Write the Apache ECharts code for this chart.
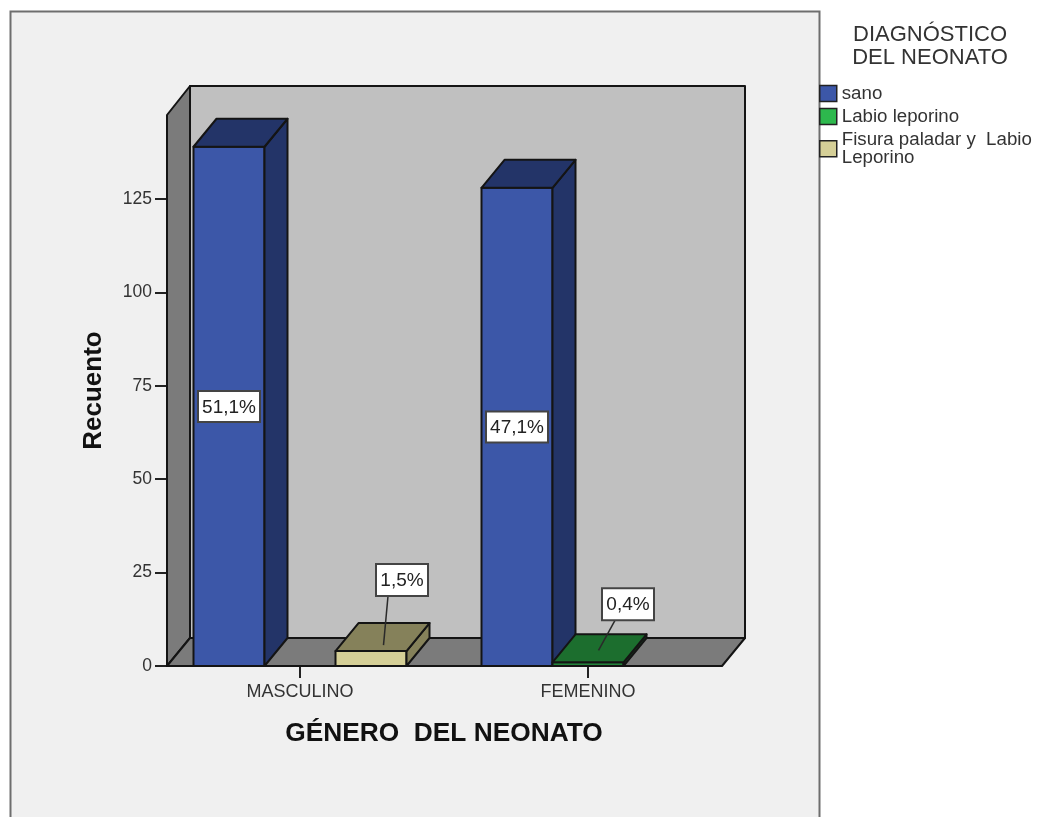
<!DOCTYPE html>
<html><head><meta charset="utf-8">
<style>html,body{margin:0;padding:0;background:#fff}#c{width:1041px;height:817px}</style>
<script src="https://cdn.jsdelivr.net/npm/echarts@6/dist/echarts.min.js"></script>
</head><body><div id="c"></div>
<script>
const categories = ['MASCULINO', 'FEMENINO'];
const sano = [139, 128];
const labio = [0, 1];
const fisura = [4, 0];
const sanoPct = ['51,1%', '47,1%'];
const labioPct = ['', '0,4%'];
const fisuraPct = ['1,5%', ''];
const tickValues = [0, 25, 50, 75, 100, 125];
const wallTop = 147.5;

const FONT = '"Liberation Sans", Arial, sans-serif';
const DX = 23, DY = 28, BAR = 71, LINE = '#141414';

function wallItem(params, api) {
  const band = api.size([1, 0])[0];
  const x0 = api.coord([0, 0])[0] - band / 2 + 11;
  const x1 = api.coord([1, 0])[0] + band / 2 - 10;
  const y0 = api.coord([0, 0])[1];
  const yT = api.coord([0, wallTop])[1];
  const st = (c) => ({ fill: c, stroke: LINE, lineWidth: 2, lineJoin: 'round' });
  const poly = (pts, c) => ({ type: 'polygon', shape: { points: pts }, style: st(c) });
  return { type: 'group', children: [
    poly([[x0 + DX, yT - DY - 1], [x1 + DX, yT - DY - 1], [x1 + DX, y0 - DY], [x0 + DX, y0 - DY]], '#c0c0c0'),
    poly([[x0, yT], [x0 + DX, yT - DY - 1], [x0 + DX, y0 - DY], [x0, y0]], '#7b7b7b'),
    poly([[x0, y0], [x0 + DX, y0 - DY], [x1 + DX, y0 - DY], [x1, y0]], '#7b7b7b')
  ] };
}

function barRenderer(slot, front, dark, labels, labelLayout) {
  return function (params, api) {
    const i = api.value(0), v = api.value(1);
    if (!v) return { type: 'group', children: [] };
    const c = api.coord([i, 0]);
    const t = api.coord([i, v]);
    const l = c[0] + slot * BAR - BAR / 2, r = l + BAR;
    const st = (col) => ({ fill: col, stroke: LINE, lineWidth: 2, lineJoin: 'round' });
    const poly = (pts, col) => ({ type: 'polygon', shape: { points: pts }, style: st(col) });
    const lay = labelLayout;
    const cx = l + BAR / 2 + lay.dx;
    const cy = lay.fromTop === null ? (c[1] + t[1]) / 2 : t[1] + lay.fromTop;
    const kids = [
      poly([[l, t[1]], [r, t[1]], [r, c[1]], [l, c[1]]], front),
      poly([[r, t[1]], [r + DX, t[1] - DY], [r + DX, c[1] - DY], [r, c[1]]], dark),
      poly([[l, t[1]], [l + DX, t[1] - DY], [r + DX, t[1] - DY], [r, t[1]]], dark)
    ];
    if (lay.lead) {
      kids.push({ type: 'line', shape: { x1: cx + lay.lead[0], y1: cy + lay.h / 2, x2: l + lay.lead[1], y2: t[1] + lay.lead[2] },
        style: { stroke: '#2a2a2a', lineWidth: 1.5 } });
    }
    kids.push({ type: 'rect', shape: { x: cx - lay.w / 2, y: cy - lay.h / 2, width: lay.w, height: lay.h },
      style: { fill: '#fff', stroke: '#444', lineWidth: 2 } });
    kids.push({ type: 'text', style: { text: labels[i], x: cx, y: cy + 1, align: 'center', verticalAlign: 'middle',
      font: '19px ' + FONT, fill: '#222' } });
    return { type: 'group', children: kids };
  };
}

const colors = { sano: '#3c57a8', labio: '#2db84d', fisura: '#d5cf97' };

const chart = echarts.init(document.getElementById('c'), null, { renderer: 'canvas' });
chart.setOption({
  animation: false,
  backgroundColor: '#fff',
  graphic: [{ type: 'rect', z: -100, shape: { x: 10.5, y: 11.5, width: 809, height: 830 },
    style: { fill: '#f0f0f0', stroke: '#6e6e6e', lineWidth: 2 } }],
  title: { text: 'DIAGNÓSTICO\nDEL NEONATO', left: 925, top: 18, textAlign: 'center',
    textStyle: { fontFamily: FONT, fontSize: 22, fontWeight: 'normal', color: '#333', lineHeight: 23 } },
  legend: { orient: 'vertical', left: 819, top: 84, padding: 0, itemWidth: 17, itemHeight: 16, itemGap: 4, icon: 'rect',
    align: 'left',
    data: ['sano', 'Labio leporino', 'Fisura paladar y  Labio\nLeporino'],
    textStyle: { fontFamily: FONT, fontSize: 18.7, color: '#333', lineHeight: 18.5 },
    itemStyle: { borderColor: '#222', borderWidth: 1.5 } },
  grid: { left: 156, top: 115, width: 576, height: 551, containLabel: false },
  xAxis: { type: 'category', data: categories, name: 'GÉNERO  DEL NEONATO', nameLocation: 'middle', nameGap: 55,
    nameTextStyle: { fontFamily: FONT, fontSize: 26.3, fontWeight: 'bold', color: '#111' },
    axisLine: { show: false }, axisTick: { show: true, alignWithLabel: true, length: 12, lineStyle: { color: '#222', width: 2 } },
    axisLabel: { fontFamily: FONT, fontSize: 18, color: '#333', margin: 17 }, splitLine: { show: false } },
  yAxis: { type: 'value', min: 0, max: wallTop, offset: -11, name: 'Recuento', nameLocation: 'middle', nameGap: 60,
    nameTextStyle: { fontFamily: FONT, fontSize: 26, fontWeight: 'bold', color: '#111' },
    axisLine: { show: false }, splitLine: { show: false },
    axisTick: { show: true, length: 12, customValues: tickValues, lineStyle: { color: '#222', width: 2 } },
    axisLabel: { customValues: tickValues, fontFamily: FONT, fontSize: 17.5, color: '#333', margin: 15, padding: [2, 0, 0, 0] } },
  series: [
    { type: 'custom', name: 'walls', z: 1, silent: true, data: [[0, 0]], renderItem: wallItem, clip: false },
    { type: 'custom', name: 'sano', z: 3, clip: false, itemStyle: { color: colors.sano },
      data: sano.map((v, i) => [i, v]),
      renderItem: barRenderer(-1, colors.sano, '#233468', sanoPct, { dx: 0, fromTop: null, w: 62, h: 31 }) },
    { type: 'custom', name: 'Labio leporino', z: 4, clip: false, itemStyle: { color: colors.labio },
      data: labio.map((v, i) => [i, v]),
      renderItem: barRenderer(0, '#22833a', '#1c6e2e', labioPct, { dx: 40, fromTop: -58, w: 52, h: 32, lead: [-13, 46, -12] }) },
    { type: 'custom', name: 'Fisura paladar y  Labio\nLeporino', z: 5, clip: false, itemStyle: { color: colors.fisura },
      data: fisura.map((v, i) => [i, v]),
      renderItem: barRenderer(1, colors.fisura, '#85815a', fisuraPct, { dx: 31, fromTop: -71, w: 52, h: 32, lead: [-14, 48, -6] }) }
  ]
});
</script></body></html>
